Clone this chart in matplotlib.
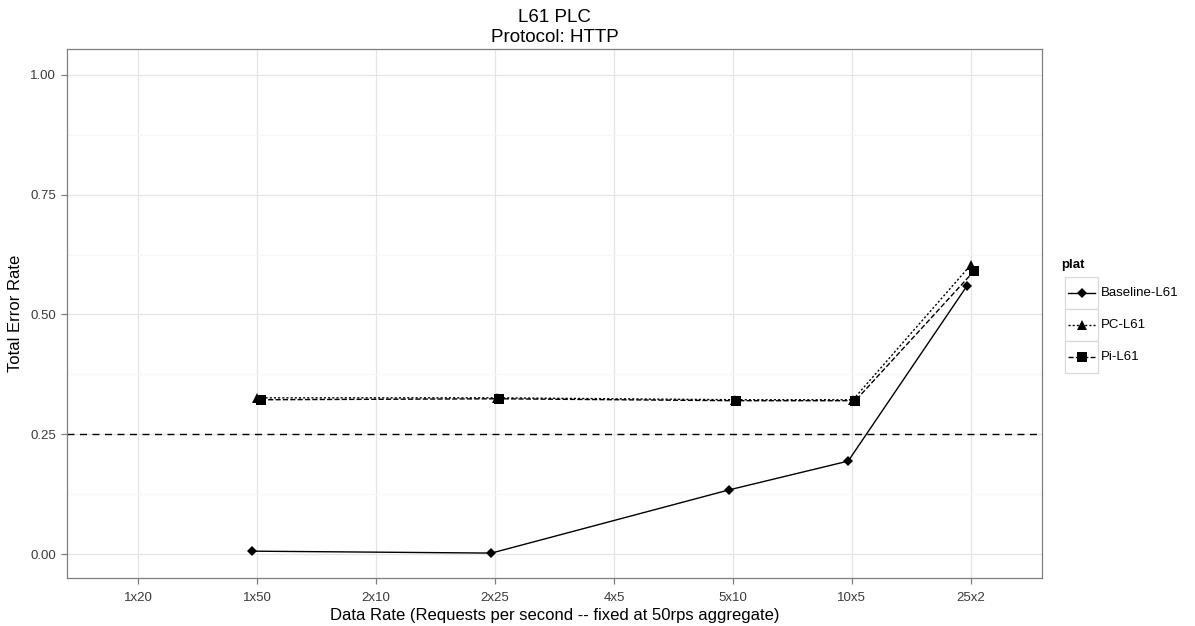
import numpy as np
import matplotlib.pyplot as plt
from matplotlib.patches import Rectangle

plt.rcParams['font.family'] = ['Liberation Sans', 'DejaVu Sans']

# Categories on the x axis
rates = ['1x20', '1x50', '2x10', '2x25', '4x5', '5x10', '10x5', '25x2']

# Measured points (category, error rate) per platform
base_x = ['1x50', '2x25', '5x10', '10x5', '25x2']
base_y = [0.006, 0.002, 0.134, 0.194, 0.560]
pc_x = ['1x50', '2x25', '5x10', '10x5', '25x2']
pc_y = [0.326, 0.326, 0.322, 0.322, 0.603]
pi_x = ['1x50', '2x25', '5x10', '10x5', '25x2']
pi_y = [0.322, 0.324, 0.320, 0.320, 0.591]

# horizontal jitter that ggplot applied to the points (category units)
base_jit = [-0.04, -0.03, -0.03, -0.03, -0.03]
pc_jit = [0.00, 0.02, 0.02, 0.01, 0.00]
pi_jit = [0.03, 0.03, 0.03, 0.03, 0.03]

threshold = 0.25

fig = plt.figure(figsize=(11.95, 6.26), dpi=100)
ax = fig.add_axes([67 / 1195, 1 - 578 / 626, 975 / 1195, 529 / 626])

pos = {r: i + 1 for i, r in enumerate(rates)}

series = [
    ('Baseline-L61', base_x, base_y, base_jit, '-', 'D', 5),
    ('PC-L61', pc_x, pc_y, pc_jit, (0, (1.5, 1.5)), '^', 7),
    ('Pi-L61', pi_x, pi_y, pi_jit, '--', 's', 7),
]

for name, xs, ys, jit, ls, mk, ms in series:
    xx = [pos[c] + j for c, j in zip(xs, jit)]
    ax.plot(xx, ys, color='black', linestyle=ls, linewidth=1.0,
            marker=mk, markersize=ms, markeredgewidth=0, zorder=3)

ax.axhline(threshold, color='black', linestyle=(0, (5, 4)), linewidth=1.0, zorder=2)

ax.set_xlim(0.4, 8.6)
ax.set_ylim(-0.05, 1.054)
ax.set_xticks(range(1, len(rates) + 1))
ax.set_xticklabels(rates)
ax.set_yticks([0, 0.25, 0.5, 0.75, 1.0])
ax.set_yticklabels(['0.00', '0.25', '0.50', '0.75', '1.00'])
ax.set_yticks([0.125, 0.375, 0.625, 0.875], minor=True)

ax.grid(True, which='major', color='#e5e5e5', linewidth=0.9)
ax.grid(True, which='minor', axis='y', color='#f7f7f7', linewidth=0.9)
ax.set_axisbelow(True)
for sp in ax.spines.values():
    sp.set_color('#7f7f7f')
    sp.set_linewidth(0.9)
ax.tick_params(which='major', colors='#7f7f7f', labelcolor='#3a3a3a',
               labelsize=9.5, length=4, width=0.9, pad=4)
ax.tick_params(axis='x', pad=6)
ax.tick_params(which='minor', length=0)

ax.set_xlabel('Data Rate (Requests per second -- fixed at 50rps aggregate)',
              fontsize=12, labelpad=3)
ax.set_ylabel('Total Error Rate', fontsize=12, labelpad=5)
ax.set_title('L61 PLC\nProtocol: HTTP', fontsize=13.5, linespacing=1.25, pad=5)

# legend drawn in its own pixel-based axes
lax = fig.add_axes([1055 / 1195, 1 - 380 / 626, 140 / 1195, 125 / 626])
lax.set_xlim(1055, 1195)
lax.set_ylim(380, 255)
lax.axis('off')
lax.text(1061, 265, 'plat', fontsize=9.5, fontweight='bold', va='center')
for k, (name, xs, ys, jit, ls, mk, ms) in enumerate(series):
    y0 = 277 + 32 * k
    lax.add_patch(Rectangle((1065, y0), 33, 32, facecolor='white',
                            edgecolor='#d9d9d9', linewidth=0.9))
    lax.plot([1068, 1095], [y0 + 16, y0 + 16], color='black', linestyle=ls,
             linewidth=1.0, clip_on=False)
    lax.plot([1081.5], [y0 + 16], color='black', marker=mk, markersize=ms,
             markeredgewidth=0, clip_on=False)
    lax.text(1101, y0 + 16, name, fontsize=9.5, va='center')

fig.savefig('out.png', dpi=100)
